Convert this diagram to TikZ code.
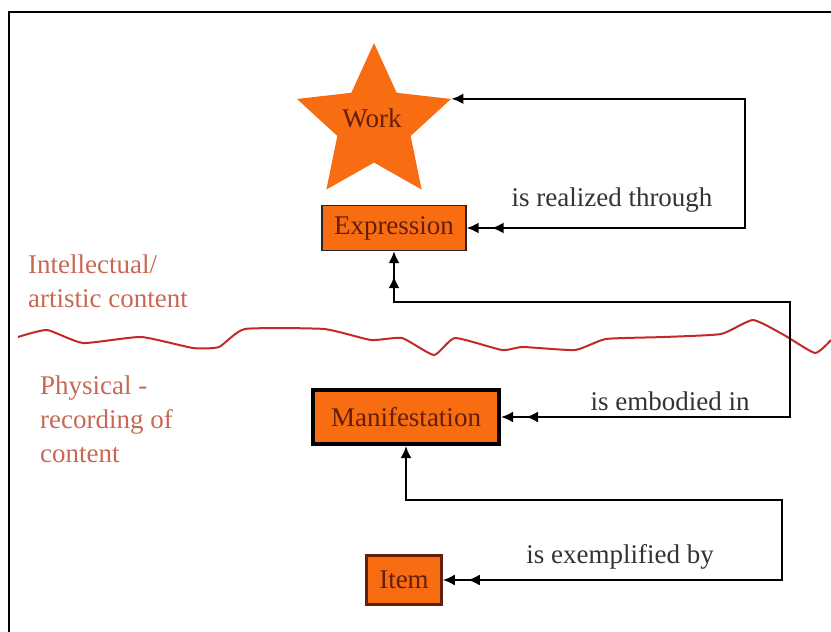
\documentclass[tikz,border=0pt]{standalone}
\usepackage{fontspec}
\setmainfont{Liberation Serif}
\usetikzlibrary{shapes.geometric,arrows.meta}
\definecolor{frbrorange}{RGB}{248,108,18}
\definecolor{boxtext}{RGB}{100,30,10}
\definecolor{sidetext}{RGB}{200,104,84}
\definecolor{wave}{RGB}{196,40,40}
\tikzset{every node/.style={font=\fontsize{27}{34}\selectfont, inner sep=0pt},
  one/.tip={Latex[length=12pt,width=11pt]},
  many/.tip={Latex[length=12pt,width=11pt,sep=13pt] Latex[length=12pt,width=11pt]},
  entity/.style={rectangle, fill=frbrorange, text=boxtext},
  link/.style={black, line width=2.2pt},
  relname/.style={text=black!80},
  side/.style={text=sidetext, align=left, anchor=north west}}

\begin{document}
\begin{tikzpicture}[x=1pt,y=-1pt]
  \useasboundingbox (0,0) rectangle (831,632);
  \draw[line width=2pt] (9,632) -- (9,12) -- (831,12);

  \node[star, star points=5, star point ratio=2.1, minimum size=162pt, fill=frbrorange, text=boxtext] (work) at (374,124) {};
  \node[text=boxtext] (worklabel) at (372,118) {Work};
  \node[entity, draw=black!85, line width=1.2pt, minimum width=144pt, minimum height=45pt] (expr) at (394,228) {Expression};
  \node[entity, draw=black, line width=4pt, minimum width=186pt, minimum height=54pt] (manif) at (406,417) {Manifestation};
  \node[entity, draw=boxtext, line width=2.5pt, minimum width=75pt, minimum height=49pt] (item) at (404,580) {Item};

  \node[relname] (realized) at (612,200) {is realized through};
  \node[relname] (embodied) at (670,401) {is embodied in};
  \node[relname] (exemplified) at (620,557) {is exemplified by};

  \node[side] (intellect) at (28,255) {Intellectual/\\artistic content};
  \node[side] (physical) at (40,376) {Physical -\\recording of\\content};

  % dividing line
  \draw[wave, line width=2pt] plot[smooth, tension=0.3] coordinates {
    (18,337) (47,330) (83,343) (141,337) (193,348) (219,347) (245,329)
    (324,329) (371,340) (402,338) (434,355) (455,338) (502,350) (523,347)
    (575,350) (606,339) (664,337) (721,334) (753,320) (784,335) (815,353) (831,340)};

  \coordinate (r1) at (745,160);
  \coordinate (r2) at (790,302);
  \coordinate (r3) at (782,500);

  \draw[link, {one}-{many}] (work.outer point 5) -| (r1) |- (expr.east);
  \draw[link, {many}-{many}] (expr.south) |- (r2) |- (manif.east);
  \draw[link, {one}-{many}] (manif.south) |- (r3) |- (item.east);
\end{tikzpicture}
\end{document}
